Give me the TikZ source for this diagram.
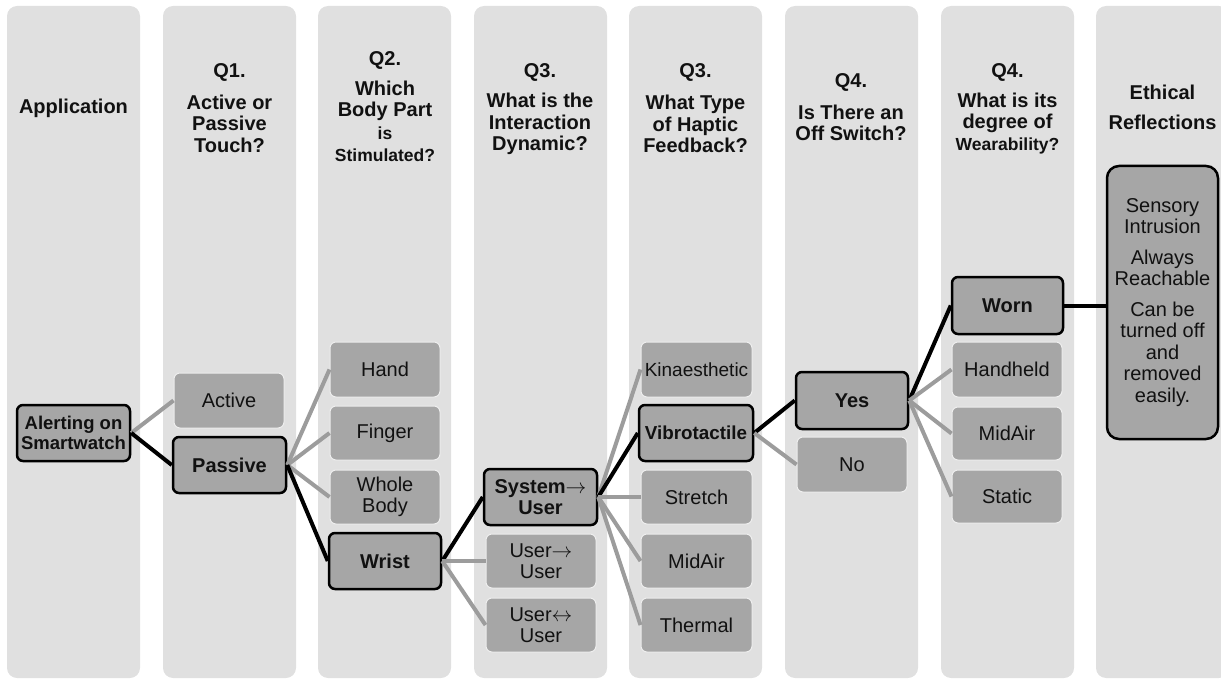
\documentclass[tikz,border=0pt]{standalone}
\usepackage{fontspec}
\setmainfont{Liberation Sans}
\definecolor{panelgray}{HTML}{E0E0E0}
\definecolor{boxgray}{HTML}{A6A6A6}
\definecolor{linegray}{HTML}{9C9C9C}
\definecolor{edgewhite}{HTML}{EEEEEE}
\definecolor{txt}{HTML}{111111}
\begin{document}
\begin{tikzpicture}[x=1pt,y=-1pt,
  panel/.style={fill=panelgray,draw=none,rounded corners=10pt},
  optbox/.style={fill=boxgray,draw=edgewhite,line width=1pt,rounded corners=6pt,inner sep=0pt,align=center,text=txt,font=\fontsize{20}{21.5}\selectfont},
  selbox/.style={optbox,draw=black,line width=2.5pt,font=\fontsize{20}{21.5}\selectfont\bfseries},
  head/.style={align=center,text=txt,inner sep=0pt,font=\fontsize{20}{21.5}\selectfont\bfseries},
  headsm/.style={align=center,text=txt,inner sep=0pt,font=\fontsize{17.5}{22}\selectfont\bfseries},
  grayline/.style={draw=linegray,line width=4pt},
  blackline/.style={draw=black,line width=4pt}
]
\useasboundingbox (0,0) rectangle (1221,679);
% panels
\foreach \x in {7,163,318,474,629,785,941,1096}{
  \fill[panel] (\x,6) rectangle ++(133,672);
}
% headers
\node[head] (h1) at (73.5,108) {Application};
\node[head] (q1) at (229.5,72) {Q1.};
\node[head] (h2) at (229.5,123.5) {Active or\\Passive\\Touch?};
\node[head] (q2) at (385,60) {Q2.};
\node[head] (h3a) at (385,101) {Which\\Body Part};
\node[headsm] (h3b) at (385,144) {is\\Stimulated?};
\node[head] (q3) at (540,72) {Q3.};
\node[head] (h4) at (540,124) {What is the\\Interaction\\Dynamic?};
\node[head] (q3b) at (695.5,72) {Q3.};
\node[head] (h5) at (695.5,124) {What Type\\of Haptic\\Feedback?};
\node[head] (q4) at (851,82) {Q4.};
\node[head] (h6) at (851,123) {Is There an\\Off Switch?};
\node[head] (q4b) at (1007.5,72) {Q4.};
\node[head] (h7a) at (1007.5,113) {What is its\\degree of};
\node[headsm] (h7b) at (1007.5,146) {Wearability?};
\node[head] (h8a) at (1162.5,92) {Ethical};
\node[head] (h8b) at (1162.5,122) {Reflections};
% nodes
\node[selbox,minimum width=113pt,minimum height=56pt,font=\fontsize{18.5}{20}\selectfont\bfseries] (alert) at (73.5,433) {Alerting on\\Smartwatch};
\node[optbox,minimum width=110pt,minimum height=55pt] (active) at (229,400.5) {Active};
\node[selbox,minimum width=113pt,minimum height=56pt] (passive) at (229.5,465) {Passive};
\node[optbox,minimum width=110pt,minimum height=55pt] (hand) at (385,369.5) {Hand};
\node[optbox,minimum width=110pt,minimum height=54pt] (finger) at (385,433) {Finger};
\node[optbox,minimum width=110pt,minimum height=54pt] (whole) at (385,497) {Whole\\Body};
\node[selbox,minimum width=112pt,minimum height=56pt] (wrist) at (385,561) {Wrist};
\node[selbox,minimum width=113pt,minimum height=56pt] (sysuser) at (540.5,497) {System$\rightarrow$\\User};
\node[optbox,minimum width=110pt,minimum height=54pt] (useruser) at (541,561) {User$\rightarrow$\\User};
\node[optbox,minimum width=110pt,minimum height=54pt] (userboth) at (541,625) {User$\leftrightarrow$\\User};
\node[optbox,minimum width=111pt,minimum height=55pt,font=\fontsize{19}{20}\selectfont] (kin) at (696.5,369.5) {Kinaesthetic};
\node[selbox,minimum width=114pt,minimum height=56pt,font=\fontsize{18.8}{20}\selectfont\bfseries] (vib) at (696,433) {Vibrotactile};
\node[optbox,minimum width=111pt,minimum height=54pt] (stretch) at (696.5,497) {Stretch};
\node[optbox,minimum width=111pt,minimum height=54pt] (midairA) at (696.5,561) {MidAir};
\node[optbox,minimum width=111pt,minimum height=54pt] (thermal) at (696.5,625) {Thermal};
\node[selbox,minimum width=112pt,minimum height=57pt] (yes) at (852,400.5) {Yes};
\node[optbox,minimum width=110pt,minimum height=55pt] (no) at (852,464.5) {No};
\node[selbox,minimum width=111pt,minimum height=57pt] (worn) at (1007.5,305.5) {Worn};
\node[optbox,minimum width=110pt,minimum height=55pt] (handheld) at (1007,369.5) {Handheld};
\node[optbox,minimum width=110pt,minimum height=53pt] (midairB) at (1007,433.5) {MidAir};
\node[optbox,minimum width=110pt,minimum height=53pt] (static) at (1007,496.5) {Static};
\node[selbox,minimum width=111pt,minimum height=273pt,rounded corners=12pt,font=\fontsize{20}{21.5}\selectfont] (ethic) at (1162.5,302.5) {Sensory\\Intrusion\\[9pt]Always\\Reachable\\[9pt]Can be\\turned off\\and\\removed\\easily.};
% connectors
\draw[grayline] (alert.east) -- (active.west);
\draw[blackline] (alert.east) -- (passive.west);
\draw[grayline] (passive.east) -- (hand.west);
\draw[grayline] (passive.east) -- (finger.west);
\draw[grayline] (passive.east) -- (whole.west);
\draw[blackline] (passive.east) -- (wrist.west);
\draw[blackline] (wrist.east) -- (sysuser.west);
\draw[grayline] (wrist.east) -- (useruser.west);
\draw[grayline] (wrist.east) -- (userboth.west);
\draw[grayline] (sysuser.east) -- (kin.west);
\draw[blackline] (sysuser.east) -- (vib.west);
\draw[grayline] (sysuser.east) -- (stretch.west);
\draw[grayline] (sysuser.east) -- (midairA.west);
\draw[grayline] (sysuser.east) -- (thermal.west);
\draw[blackline] (vib.east) -- (yes.west);
\draw[grayline] (vib.east) -- (no.west);
\draw[blackline] (yes.east) -- (worn.west);
\draw[grayline] (yes.east) -- (handheld.west);
\draw[grayline] (yes.east) -- (midairB.west);
\draw[grayline] (yes.east) -- (static.west);
\draw[blackline] (worn.east) -- (ethic.west |- worn.east);
\end{tikzpicture}
\end{document}
